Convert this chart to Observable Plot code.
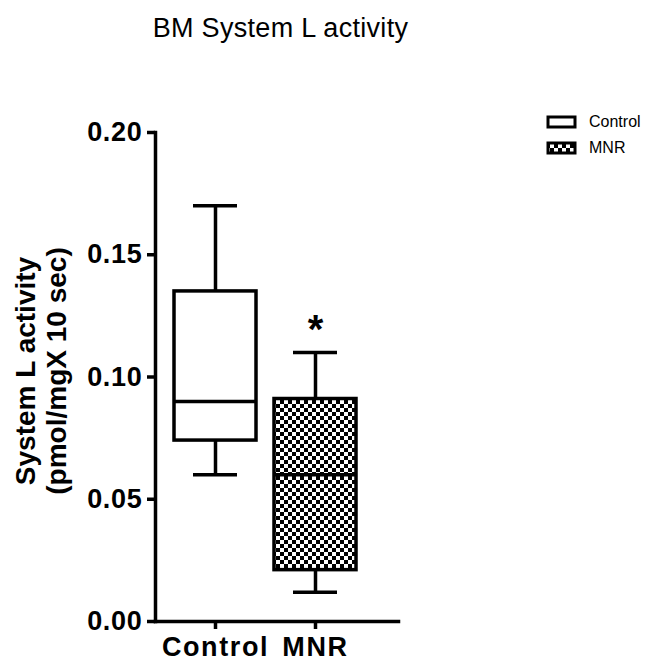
<!DOCTYPE html>
<html><head><meta charset="utf-8">
<script src="https://cdn.jsdelivr.net/npm/d3@7"></script>
<script src="https://cdn.jsdelivr.net/npm/@observablehq/plot@0.6"></script>
<style>
body{margin:0;background:#fff;}
#wrap{position:relative;width:646px;height:661px;font-family:"Liberation Sans",Arial,sans-serif;}
#wrap > svg.plot{position:absolute;left:0;top:0;}
#title{position:absolute;left:0;width:561px;text-align:center;top:15px;font-size:27px;line-height:26px;letter-spacing:0.3px;color:#000;}
#legend{position:absolute;left:546px;top:112px;}
#wrap g[aria-label="x-axis tick label"] text{letter-spacing:1.6px;}
#wrap g[aria-label="y-axis tick label"] text{letter-spacing:0.7px;}
#wrap g[aria-label="y-title"] text{letter-spacing:1.5px;}
</style></head><body>
<div id="wrap"><div id="title">BM System L activity</div></div>
<script>
const groups = ["Control", "MNR"];
const mins = [0.06, 0.012];
const q1s = [0.074, 0.021];
const medians = [0.09, 0.06];
const q3s = [0.135, 0.091];
const maxs = [0.17, 0.11];
const sigMarks = ["", "*"];
const yTicks = [0, 0.05, 0.10, 0.15, 0.20];
const yTitle = ["System L activity", "(pmol/mgX 10 sec)"];

const data = groups.map((g, i) => ({group: g, min: mins[i], q1: q1s[i], median: medians[i], q3: q3s[i], max: maxs[i], sig: sigMarks[i]}));
const font = "Liberation Sans, Arial, sans-serif";
const sw = 3.5;

const plot = Plot.plot({
  width: 646, height: 661,
  marginLeft: 155, marginRight: 248, marginTop: 132, marginBottom: 40,
  style: {fontFamily: font, background: "transparent", color: "black", overflow: "visible"},
  x: {domain: groups, range: [165, 365], paddingInner: 0.18, paddingOuter: 0.09, axis: null},
  y: {domain: [0, 0.2], axis: null},
  color: {domain: groups, range: ["white", "url(#checker)"]},
  marks: [
    Plot.ruleX(data, {x: "group", y1: "min", y2: "max", strokeWidth: sw}),
    Plot.barY(data, {x: "group", y1: "q1", y2: "q3", fill: "group", stroke: "black", strokeWidth: sw}),
    Plot.tickY(data, {x: "group", y: "median", strokeWidth: sw}),
    Plot.tickY(data, {x: "group", y: "min", insetLeft: 19, insetRight: 19, strokeWidth: sw}),
    Plot.tickY(data, {x: "group", y: "max", insetLeft: 19, insetRight: 19, strokeWidth: sw}),
    Plot.text(data, {x: "group", y: "max", text: "sig", dy: -22, fontSize: 40, fontWeight: "bold"}),
    Plot.axisY({ticks: yTicks, tickFormat: d3.format(".2f"), tickSize: 8, tickPadding: 5, fontSize: 27, fontWeight: "bold", strokeWidth: sw, label: null}),
    Plot.axisX({tickSize: 8, tickPadding: 7, fontSize: 27, fontWeight: "bold", strokeWidth: sw, label: null}),
    Plot.frame({anchor: "left", strokeWidth: sw}),
    Plot.frame({anchor: "bottom", strokeWidth: sw}),
    Plot.text([yTitle.join("\n")], {ariaLabel: "y-title", frameAnchor: "left", textAnchor: "middle", rotate: -90, dx: -115, dy: -6, fontSize: 28, fontWeight: "bold", lineHeight: 1.12})
  ]
});

// checker pattern used by the MNR fill
const defs = d3.select(plot).insert("defs", ":first-child");
const pat = defs.append("pattern").attr("id", "checker").attr("patternUnits", "userSpaceOnUse").attr("width", 8).attr("height", 8);
pat.append("rect").attr("width", 8).attr("height", 8).attr("fill", "white");
pat.append("rect").attr("width", 4).attr("height", 4).attr("fill", "black");
pat.append("rect").attr("x", 4).attr("y", 4).attr("width", 4).attr("height", 4).attr("fill", "black");

document.getElementById("wrap").appendChild(plot);

// legend
const color = plot.scale("color");
const leg = d3.select("#wrap").append("svg").attr("id", "legend").attr("width", 100).attr("height", 50)
  .style("font-family", font);
groups.forEach((g, i) => {
  leg.append("rect").attr("x", 2).attr("y", 5 + 26 * i).attr("width", 27).attr("height", 10)
    .attr("fill", color.apply(g)).attr("stroke", "black").attr("stroke-width", 3);
  leg.append("text").attr("x", 43).attr("y", 15 + 26 * i).attr("font-size", 16).text(g);
});
</script>
</body></html>
